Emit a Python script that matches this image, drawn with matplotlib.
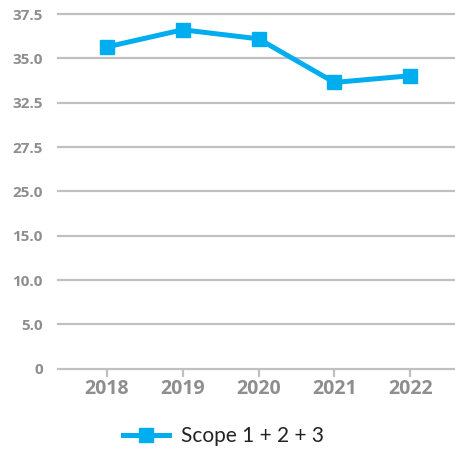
import numpy as np
import matplotlib.pyplot as plt

# dados
anos = ["2018", "2019", "2020", "2021", "2022"]
emissoes = [35.64, 36.61, 36.10, 33.64, 34.02]
serie = "Scope 1 + 2 + 3"

# eixo y quebrado: rótulos igualmente espaçados
ticks_valores = [0, 5.0, 10.0, 15.0, 25.0, 27.5, 32.5, 35.0, 37.5]
ticks_rotulos = ["0", "5.0", "10.0", "15.0", "25.0", "27.5", "32.5", "35.0", "37.5"]

azul = "#00aeef"
cinza_grade = "#c0c0c0"
cinza_texto = "#8e8e8e"

pos_y = np.arange(len(ticks_valores))
y_plot = np.interp(emissoes, ticks_valores, pos_y)
x = np.arange(len(anos))

fig = plt.figure(figsize=(4.56, 4.5), dpi=100)
ax = fig.add_axes([58 / 456, (450 - 368.7) / 450, 1 - 58 / 456, (368.7 - 14) / 450])

for p in pos_y:
    ax.axhline(p, color=cinza_grade, lw=1.6, zorder=1, clip_on=False)

ax.plot(x, y_plot, color=azul, lw=3.6, marker="s", markersize=10,
        label=serie, zorder=3, clip_on=False)

ax.set_xlim(-0.64, 4.6)
ax.set_ylim(0, 8)
for s in ax.spines.values():
    s.set_visible(False)

ax.set_xticks(x)
ax.set_xticklabels(anos, fontfamily="Open Sans", fontweight="bold", fontsize=14, color=cinza_texto)
ax.tick_params(axis="x", length=5.5, width=1.6, color=cinza_grade, pad=2)
ax.set_yticks(pos_y)
ax.set_yticklabels(ticks_rotulos, fontfamily="Open Sans", fontweight="bold", fontsize=11, color=cinza_texto)
ax.tick_params(axis="y", length=0, pad=11)

fig.legend(loc="center", bbox_to_anchor=(0.49, 0.03), frameon=False,
           prop={"family": "Lato", "size": 15}, handlelength=2.2, handletextpad=0.6,
           labelcolor="#222222")

fig.savefig("out.png", dpi=100)
